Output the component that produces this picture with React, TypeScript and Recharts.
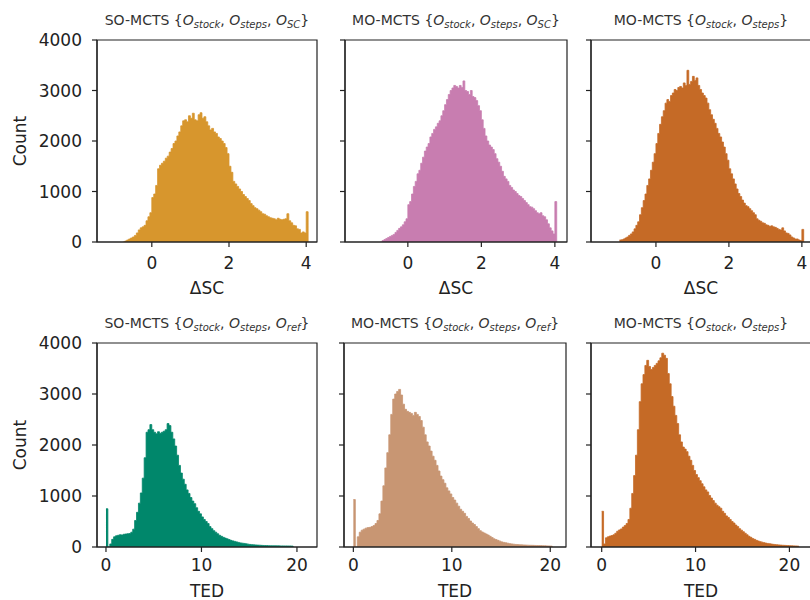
import React from 'react';
import { ComposedChart, Area, XAxis, YAxis, ReferenceArea } from 'recharts';

const FONT = '"DejaVu Sans", Verdana, sans-serif';
const TEXT = '#222';

// ---- histogram bins ----
const scBinWidth = 0.05;
const tedBinWidth = 0.2;

// ΔSC, SO-MCTS {O_stock, O_steps, O_SC}
const soScStart = -0.75;
const soScCounts = [
  0, 20, 40, 60, 80, 100, 130, 180, 240, 280, 300, 330, 420, 500, 580,
  880, 950, 1120, 1450, 1520, 1560, 1600, 1660, 1700, 1780,
  1850, 1950, 2000, 2100, 2180, 2300, 2400, 2420, 2380, 2500,
  2450, 2550, 2420, 2400, 2520, 2560, 2450, 2480, 2380, 2300,
  2220, 2250, 2180, 2150, 2080, 2050, 2000, 1950, 1870, 1750,
  1500, 1380, 1200, 1150, 1100, 1050, 1000, 940, 900, 860,
  820, 760, 720, 680, 660, 630, 600, 560, 550, 520,
  500, 480, 470, 460, 440, 470, 450, 440, 450, 460,
  560, 420, 380, 330, 320, 260, 250, 180, 200, 180,
  600,
];

// ΔSC, MO-MCTS {O_stock, O_steps, O_SC}
const moScStart = -0.75;
const moScCounts = [
  0, 30, 50, 70, 90, 110, 130, 150, 190, 230, 270, 300, 340, 400, 460,
  740, 800, 950, 1100, 1200, 1350, 1420, 1560, 1680, 1800,
  1880, 1950, 2080, 2150, 2230, 2280, 2350, 2400, 2500, 2600,
  2720, 2820, 2920, 3000, 3050, 3100, 3080, 3050, 3100, 3060,
  3190, 3000, 2980, 2920, 3000, 2880, 2860, 2800, 2700, 2600,
  2420, 2250, 2100, 2000, 1920, 1880, 1830, 1750, 1650, 1580,
  1500, 1400, 1300, 1250, 1200, 1120, 1080, 1030, 1000, 960,
  920, 900, 860, 820, 780, 740, 700, 690, 660, 620,
  580, 560, 580, 520, 500, 440, 360, 280, 220, 160,
  800,
];

// ΔSC, MO-MCTS {O_stock, O_steps}
const mo2ScStart = -1.0;
const mo2ScCounts = [
  40, 45, 60, 80, 100, 130, 160, 200, 260, 330,
  400, 540, 680, 820, 950, 1120, 1250, 1420, 1580, 1750,
  1950, 2150, 2330, 2480, 2600, 2750, 2820, 2780, 2900, 2950,
  3020, 3000, 3060, 3080, 3050, 3150, 3100, 3400, 3120, 3180,
  3280, 3200, 3250, 3100, 3020, 2950, 2900, 2850, 2750, 2620,
  2520, 2430, 2350, 2250, 2150, 2080, 1980, 1880, 1750, 1620,
  1450, 1350, 1250, 1150, 1050, 960, 900, 830, 770, 720,
  700, 660, 620, 580, 540, 460, 430, 410, 380, 370,
  340, 330, 310, 320, 300, 290, 270, 250, 240, 280,
  220, 180, 170, 140, 100, 80, 60, 60, 40, 30,
  250,
];

// TED, SO-MCTS {O_stock, O_steps, O_ref}
const soTedStart = 0;
const soTedCounts = [
  750, 0, 60, 150, 200, 220, 230, 240, 235, 250,
  255, 260, 265, 290, 350, 520, 680, 860, 1060, 1350,
  1750, 2250, 2300, 2400, 2300, 2250, 2220, 2260, 2230, 2250,
  2270, 2300, 2420, 2380, 2250, 2120, 1980, 1800, 1600, 1450,
  1330, 1230, 1120, 1050, 970, 900, 850, 770, 700, 650,
  590, 540, 500, 460, 400, 360, 320, 290, 260, 230,
  210, 190, 175, 160, 145, 130, 120, 110, 100, 90,
  80, 75, 70, 62, 56, 50, 46, 42, 40, 37,
  35, 32, 30, 28, 27, 26, 25, 24, 24, 23,
  23, 22, 22, 21, 21, 20, 20, 18,
];

// TED, MO-MCTS {O_stock, O_steps, O_ref}
const moTedStart = 0;
const moTedCounts = [
  930, 0, 200, 290, 330, 350, 370, 380, 385, 400,
  420, 460, 520, 650, 900, 1200, 1550, 1850, 2200, 2600,
  2900, 3000, 3050, 3090, 2980, 2800, 2700, 2660, 2640, 2620,
  2580, 2640, 2600, 2560, 2480, 2350, 2200, 2060, 1980, 1880,
  1780, 1700, 1600, 1490, 1390, 1320, 1250, 1160, 1100, 1040,
  970, 920, 860, 800, 740, 700, 660, 600, 560, 510,
  470, 440, 400, 360, 320, 295, 275, 255, 235, 210,
  185, 160, 145, 130, 115, 100, 90, 82, 74, 66,
  60, 55, 50, 47, 44, 42, 40, 38, 36, 34,
  33, 32, 30, 29, 28, 27, 26, 25, 22, 20,
  18,
];

// TED, MO-MCTS {O_stock, O_steps}
const mo2TedStart = 0;
const mo2TedCounts = [
  700, 60, 180, 200, 215, 225, 240, 270, 310, 335,
  355, 390, 420, 460, 540, 760, 1050, 1400, 1800, 2300,
  2850, 3200, 3380, 3560, 3660, 3540, 3480, 3520, 3560, 3600,
  3650, 3710, 3800, 3760, 3700, 3400, 3200, 2950, 2760, 2580,
  2420, 2200, 2060, 1960, 1920, 1870, 1780, 1700, 1600, 1500,
  1420, 1360, 1300, 1240, 1180, 1120, 1080, 1010, 960, 910,
  860, 820, 790, 760, 700, 660, 610, 580, 540, 500,
  470, 430, 400, 360, 330, 300, 270, 240, 210, 190,
  165, 150, 130, 118, 105, 95, 85, 76, 70, 65,
  58, 52, 47, 44, 40, 37, 34, 32, 30, 28,
  26, 24, 22, 20, 18,
];

const countTicks = [0, 1000, 2000, 3000, 4000];
const scTicks = [0, 2, 4];
const tedTicks = [0, 10, 20];

const titleSubsSC = ['stock', 'steps', 'SC'];
const titleSubsRef = ['stock', 'steps', 'ref'];
const titleSubs2 = ['stock', 'steps'];

const buildHist = (start: number, width: number, counts: number[]) => {
  const rows = counts.map((c, i) => ({ x: +(start + i * width).toFixed(4), y: c }));
  rows.push({ x: +(start + counts.length * width).toFixed(4), y: 0 });
  return rows;
};

const Title = ({ cx, y, prefix, subs }: { cx: number; y: number; prefix: string; subs: string[] }) => (
  <text x={cx} y={y} textAnchor="middle" fontSize={14} fill="#333" fontFamily={FONT}>
    <tspan>{prefix + ' {'}</tspan>
    {subs.map((s, i) => (
      <React.Fragment key={i}>
        <tspan fontStyle="italic">O</tspan>
        <tspan fontStyle="italic" fontSize={10} dy={3}>{s}</tspan>
        <tspan dy={-3}>{i < subs.length - 1 ? ', ' : '}'}</tspan>
      </React.Fragment>
    ))}
  </text>
);

type PanelCfg = {
  plotLeft: number;
  plotTop: number;
  plotW: number;
  plotH: number;
  showY: boolean;
  domain: [number, number];
  ticks: number[];
  xLabel: string;
  color: string;
  data: { x: number; y: number }[];
  prefix: string;
  subs: string[];
  tickMargin: number;
  xLabelDy: number;
};

const Panel = ({ cfg }: { cfg: PanelCfg }) => {
  const yW = cfg.showY ? cfg.plotLeft : 20;
  const width = yW + cfg.plotW + 10;
  const height = 40 + cfg.plotH + 60;
  return (
    <div style={{ position: 'absolute', left: cfg.plotLeft - yW, top: cfg.plotTop - 40 }}>
      <ComposedChart
        width={width}
        height={height}
        data={cfg.data}
        margin={{ top: 40, right: 10, left: 0, bottom: 0 }}
      >
        <XAxis
          type="number"
          dataKey="x"
          domain={cfg.domain}
          allowDataOverflow
          ticks={cfg.ticks}
          interval={0}
          height={60}
          tickSize={5}
          tickMargin={cfg.tickMargin}
          axisLine={{ stroke: TEXT, strokeWidth: 1.2 }}
          tickLine={{ stroke: TEXT, strokeWidth: 1.2 }}
          tick={{ fontSize: 17, fill: TEXT, fontFamily: FONT }}
          label={(props: any) => {
            const vb = props.viewBox || {};
            return (
              <text
                x={vb.x + vb.width / 2}
                y={vb.y + cfg.xLabelDy}
                textAnchor="middle"
                fontSize={17}
                fill={TEXT}
                fontFamily={FONT}
              >
                {cfg.xLabel}
              </text>
            );
          }}
        />
        <YAxis
          type="number"
          domain={[0, 4000]}
          allowDataOverflow
          ticks={countTicks}
          interval={0}
          width={yW}
          tickSize={5}
          tickMargin={10}
          axisLine={{ stroke: TEXT, strokeWidth: 1.2 }}
          tickLine={{ stroke: TEXT, strokeWidth: 1.2 }}
          tick={{ fontSize: 17, fill: TEXT, fontFamily: FONT }}
          tickFormatter={(v: number) => (cfg.showY ? String(v) : '')}
          label={
            cfg.showY
              ? (props: any) => {
                  const vb = props.viewBox || {};
                  const cy = vb.y + vb.height / 2;
                  return (
                    <text
                      x={0}
                      y={0}
                      transform={`translate(26, ${cy}) rotate(-90)`}
                      textAnchor="middle"
                      fontSize={17}
                      fill={TEXT}
                      fontFamily={FONT}
                    >
                      Count
                    </text>
                  );
                }
              : undefined
          }
        />
        <Area
          type="stepAfter"
          dataKey="y"
          stroke={cfg.color}
          strokeWidth={0.8}
          fill={cfg.color}
          fillOpacity={1}
          dot={false}
          activeDot={false}
          isAnimationActive={false}
        />
        <ReferenceArea
          x1={cfg.domain[0]}
          x2={cfg.domain[1]}
          y1={0}
          y2={4000}
          fill="none"
          fillOpacity={0}
          stroke={TEXT}
          strokeWidth={1.2}
          label={(props: any) => {
            const vb = props.viewBox || {};
            return <Title cx={vb.x + vb.width / 2} y={vb.y - 15} prefix={cfg.prefix} subs={cfg.subs} />;
          }}
        />
      </ComposedChart>
    </div>
  );
};

const panels: PanelCfg[] = [
  {
    plotLeft: 97, plotTop: 40, plotW: 220, plotH: 202, showY: true,
    domain: [-1.42, 4.28], ticks: scTicks, xLabel: 'ΔSC', color: '#D7962D',
    data: buildHist(soScStart, scBinWidth, soScCounts), prefix: 'SO-MCTS', subs: titleSubsSC,
    tickMargin: 10, xLabelDy: 52,
  },
  {
    plotLeft: 345, plotTop: 40, plotW: 222, plotH: 202, showY: false,
    domain: [-1.71, 4.33], ticks: scTicks, xLabel: 'ΔSC', color: '#C87DB0',
    data: buildHist(moScStart, scBinWidth, moScCounts), prefix: 'MO-MCTS', subs: titleSubsSC,
    tickMargin: 10, xLabelDy: 52,
  },
  {
    plotLeft: 591, plotTop: 40, plotW: 220, plotH: 202, showY: false,
    domain: [-1.78, 4.25], ticks: scTicks, xLabel: 'ΔSC', color: '#C56A26',
    data: buildHist(mo2ScStart, scBinWidth, mo2ScCounts), prefix: 'MO-MCTS', subs: titleSubs2,
    tickMargin: 10, xLabelDy: 52,
  },
  {
    plotLeft: 97, plotTop: 343, plotW: 220, plotH: 204, showY: true,
    domain: [-0.94, 22.1], ticks: tedTicks, xLabel: 'TED', color: '#00876B',
    data: buildHist(soTedStart, tedBinWidth, soTedCounts), prefix: 'SO-MCTS', subs: titleSubsRef,
    tickMargin: 7, xLabelDy: 50,
  },
  {
    plotLeft: 344, plotTop: 343, plotW: 222, plotH: 204, showY: false,
    domain: [-0.95, 21.6], ticks: tedTicks, xLabel: 'TED', color: '#C89673',
    data: buildHist(moTedStart, tedBinWidth, moTedCounts), prefix: 'MO-MCTS', subs: titleSubsRef,
    tickMargin: 7, xLabelDy: 50,
  },
  {
    plotLeft: 591, plotTop: 343, plotW: 220, plotH: 204, showY: false,
    domain: [-1.14, 22.3], ticks: tedTicks, xLabel: 'TED', color: '#C56A26',
    data: buildHist(mo2TedStart, tedBinWidth, mo2TedCounts), prefix: 'MO-MCTS', subs: titleSubs2,
    tickMargin: 7, xLabelDy: 50,
  },
];

export default function App() {
  return (
    <div
      style={{
        position: 'absolute',
        left: 0,
        top: 0,
        width: 810,
        height: 600,
        overflow: 'hidden',
        background: '#fff',
        fontFamily: FONT,
      }}
    >
      {panels.map((p, i) => (
        <Panel key={i} cfg={p} />
      ))}
    </div>
  );
}
